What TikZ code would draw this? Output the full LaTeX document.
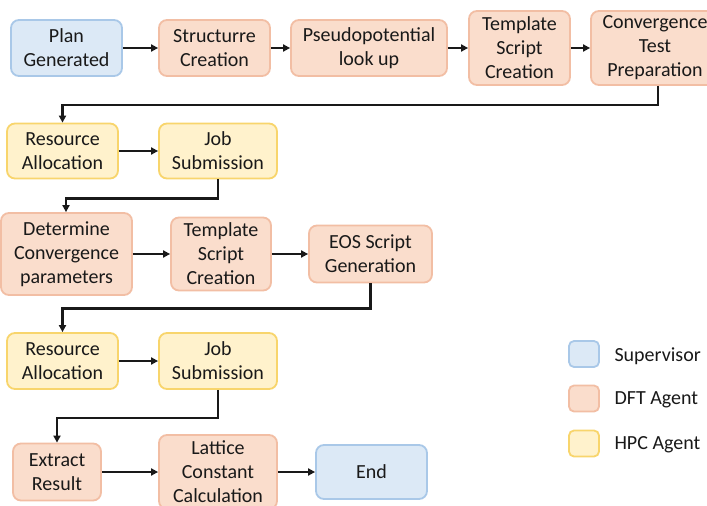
\documentclass[tikz,border=0pt]{standalone}
\usepackage{fontspec}
\setmainfont{Carlito}
\usetikzlibrary{arrows.meta}
\definecolor{supfill}{HTML}{DCE9F6}
\definecolor{supline}{HTML}{A9C8E8}
\definecolor{dftfill}{HTML}{FADDCC}
\definecolor{dftline}{HTML}{F2BEA4}
\definecolor{hpcfill}{HTML}{FFF2CC}
\definecolor{hpcline}{HTML}{F8D56C}
\tikzset{
  box/.style={rectangle, rounded corners=8pt, line width=1.8pt, align=center,
    inner sep=0pt, font=\fontsize{20}{24}\selectfont, text=black!90},
  sup/.style={box, fill=supfill, draw=supline},
  dft/.style={box, fill=dftfill, draw=dftline},
  hpc/.style={box, fill=hpcfill, draw=hpcline},
  flow/.style={line width=2.3pt, draw=black!90, -{Triangle[length=7pt,width=7pt]}},
  legtext/.style={anchor=west, font=\fontsize{20}{24}\selectfont, text=black!90},
}
\begin{document}
\begin{tikzpicture}[x=1pt,y=-1pt]
\useasboundingbox (0,0) rectangle (707,506);
\clip (0,0) rectangle (707,506);
\fill[white] (0,0) rectangle (707,506);

% row 1
\node[sup, minimum width=111pt, minimum height=56pt] (plan) at (66.5,48) {Plan\\Generated};
\node[dft, minimum width=111pt, minimum height=56pt] (struct) at (214.5,48) {Structurre\\Creation};
\node[dft, minimum width=156pt, minimum height=56pt] (pseudo) at (369,48) {Pseudopotential\\look up};
\node[dft, minimum width=101pt, minimum height=74pt] (tmplA) at (519.5,48) {Template\\Script\\Creation};
\node[dft, minimum width=128pt, minimum height=74pt] (conv) at (655,48) {Convergence\\Test\\Preparation};

% row 2
\node[hpc, minimum width=111pt, minimum height=55pt] (resA) at (62.5,151) {Resource\\Allocation};
\node[hpc, minimum width=118pt, minimum height=55pt] (jobA) at (218,151) {Job\\Submission};

% row 3
\node[dft, minimum width=131pt, minimum height=82pt] (det) at (66.5,254) {Determine\\Convergence\\parameters};
\node[dft, minimum width=100pt, minimum height=73pt] (tmplB) at (221,254) {Template\\Script\\Creation};
\node[dft, minimum width=123pt, minimum height=57pt] (eos) at (370.5,254) {EOS Script\\Generation};

% row 4
\node[hpc, minimum width=111pt, minimum height=56pt] (resB) at (62.5,361) {Resource\\Allocation};
\node[hpc, minimum width=118pt, minimum height=56pt] (jobB) at (218,361) {Job\\Submission};

% row 5
\node[dft, minimum width=88pt, minimum height=57pt] (extr) at (57,472) {Extract\\Result};
\node[dft, minimum width=118pt, minimum height=74pt] (latt) at (218,472) {Lattice\\Constant\\Calculation};
\node[sup, minimum width=111pt, minimum height=54pt] (end) at (371.5,472) {End};

% connectors
\draw[flow] (plan) -- (struct);
\draw[flow] (struct) -- (pseudo);
\draw[flow] (pseudo) -- (tmplA);
\draw[flow] (tmplA) -- (conv);
\draw[flow] ([xshift=3pt]conv.south) -- ++(0,19) -| (resA.north);
\draw[flow] (resA) -- (jobA);
\draw[flow] (jobA.south) -- ++(0,19) -| ([xshift=-0.5pt]det.north);
\draw[flow] (det) -- (tmplB);
\draw[flow] (tmplB) -- (eos);
\draw[flow] (eos.south) -- ++(0,25) -| (resB.north);
\draw[flow] (resB) -- (jobB);
\draw[flow] (jobB.south) -- ++(0,28) -| (extr.north);
\draw[flow] (extr) -- (latt);
\draw[flow] (latt) -- (end);

% legend
\node[sup, minimum width=30pt, minimum height=26pt, rounded corners=5pt] (legS) at (584,354) {};
\node[dft, minimum width=30pt, minimum height=26pt, rounded corners=5pt] (legD) at (584,398.5) {};
\node[hpc, minimum width=30pt, minimum height=26pt, rounded corners=5pt] (legH) at (584,443.5) {};
\node[legtext] (legSt) at (611,356) {Supervisor};
\node[legtext] (legDt) at (611,400) {DFT Agent};
\node[legtext] (legHt) at (611,445) {HPC Agent};
\end{tikzpicture}
\end{document}
